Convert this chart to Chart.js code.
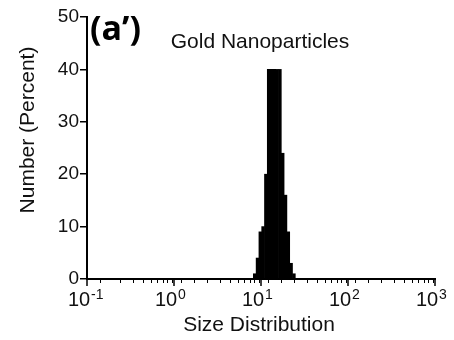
<!DOCTYPE html>
<html>
<head>
<meta charset="utf-8">
<script src="https://cdn.jsdelivr.net/npm/chart.js@4/dist/chart.umd.min.js"></script>
<style>
  html, body { margin: 0; padding: 0; background: #ffffff; }
  #wrap { width: 454px; height: 340px; position: relative; }
</style>
</head>
<body>
<div id="wrap"><canvas id="chart" width="454" height="340"></canvas></div>
<script>
// Size bins (nm, bin centres on a log axis) and number distribution (%)
const sizeBins = [8.47, 9.12, 9.82, 10.57, 11.38, 12.26, 13.20, 14.22, 15.31, 16.49, 17.76, 19.12, 20.60, 22.18, 23.89];
const numberPercent = [1, 4, 9, 10, 20, 40, 40, 40, 40, 40, 24, 16, 9, 3, 1];

// Axis decades and y ticks
const decadeExponents = [-1, 0, 1, 2, 3];
const yTicks = [0, 10, 20, 30, 40, 50];

const panelLabel = '(a\u2019)';
const chartTitle = 'Gold Nanoparticles';
const xTitle = 'Size Distribution';
const yTitle = 'Number (Percent)';

const SANS = '"Liberation Sans", Arial, Helvetica, sans-serif';
const INK = '#111111';

const points = sizeBins.map((s, i) => ({ x: s, y: numberPercent[i] }));

// Draws decade labels with superscripts, the longer decade ticks, and the texts
const annotations = {
  id: 'annotations',
  afterDraw(chart) {
    const ctx = chart.ctx;
    const xs = chart.scales.x;
    const ys = chart.scales.y;
    const base = ys.getPixelForValue(0);
    ctx.save();
    ctx.fillStyle = INK;
    ctx.strokeStyle = '#000';

    // longer ticks at each decade
    ctx.lineWidth = 1.5;
    decadeExponents.forEach(p => {
      const px = xs.getPixelForValue(Math.pow(10, p));
      ctx.beginPath();
      ctx.moveTo(px, base);
      ctx.lineTo(px, base + 7);
      ctx.stroke();
    });

    // decade labels: "10" with a raised exponent
    decadeExponents.forEach(p => {
      const px = xs.getPixelForValue(Math.pow(10, p));
      ctx.font = '20px ' + SANS;
      ctx.textAlign = 'center';
      ctx.textBaseline = 'alphabetic';
      const cx = px - 8;
      ctx.fillText('10', cx, 306);
      const w = ctx.measureText('10').width;
      ctx.font = '14px ' + SANS;
      ctx.textAlign = 'left';
      ctx.fillText(p < 0 ? '-' + Math.abs(p) : String(p), cx + w / 2 + 1, 299);
    });

    // x title
    ctx.font = '21px ' + SANS;
    ctx.textAlign = 'center';
    ctx.textBaseline = 'alphabetic';
    ctx.fillText(xTitle, 259, 331);

    // chart title
    ctx.fillText(chartTitle, 260, 48);

    // y title
    ctx.save();
    ctx.translate(34, 130);
    ctx.rotate(-Math.PI / 2);
    ctx.fillText(yTitle, 0, 0);
    ctx.restore();

    // panel label
    ctx.font = 'bold 34px "Open Sans", "Liberation Sans", sans-serif';
    ctx.textAlign = 'left';
    ctx.fillStyle = '#000';
    ctx.fillText(panelLabel, 90, 40);

    ctx.restore();
  }
};

new Chart(document.getElementById('chart'), {
  type: 'bar',
  data: {
    datasets: [{
      data: points,
      backgroundColor: '#000000',
      borderWidth: 0,
      barPercentage: 1,
      categoryPercentage: 1,
      barThickness: 'flex'
    }]
  },
  options: {
    responsive: false,
    animation: false,
    layout: { padding: { left: 0, top: 17, right: 19, bottom: 0 } },
    plugins: {
      legend: { display: false },
      tooltip: { enabled: false },
      title: { display: false }
    },
    scales: {
      x: {
        type: 'logarithmic',
        min: 0.1,
        max: 1000,
        afterFit(scale) { scale.height = 61; },
        border: { display: true, color: '#000', width: 2 },
        grid: { drawOnChartArea: false, drawTicks: true, tickLength: 4, color: '#000', lineWidth: 1 },
        ticks: { autoSkip: false, maxRotation: 0, callback: () => '' }
      },
      y: {
        type: 'linear',
        min: 0,
        max: 50,
        afterFit(scale) { scale.width = 87; },
        afterBuildTicks(scale) { scale.ticks = yTicks.map(v => ({ value: v })); },
        border: { display: true, color: '#000', width: 2 },
        grid: { drawOnChartArea: false, drawTicks: true, tickLength: 7, color: '#000', lineWidth: 1.5 },
        ticks: { color: INK, padding: 1, font: { family: SANS, size: 19 } }
      }
    }
  },
  plugins: [annotations]
});
</script>
</body>
</html>
